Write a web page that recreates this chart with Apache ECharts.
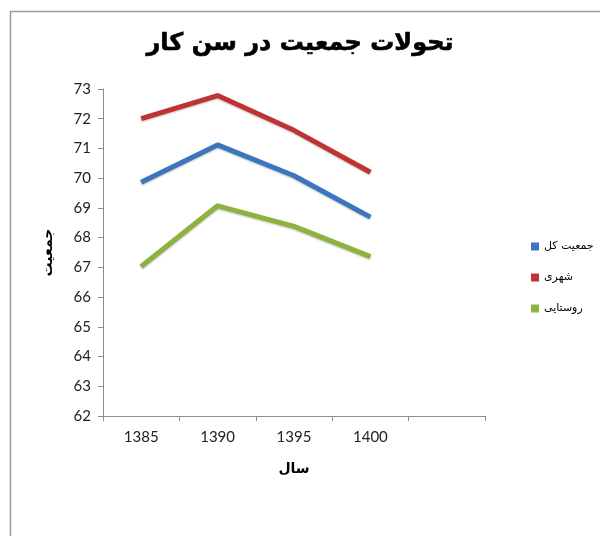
<!DOCTYPE html>
<html>
<head>
<meta charset="utf-8">
<script src="https://cdn.jsdelivr.net/npm/echarts@6/dist/echarts.min.js"></script>
<style>html,body{margin:0;padding:0;background:#fff}#c{width:600px;height:536px}</style>
</head>
<body>
<div id="c"></div>
<script>
var categories = ['1385', '1390', '1395', '1400', ''];
var totalPop = [69.86, 71.12, 70.08, 68.69];
var urbanPop = [72.0, 72.78, 71.61, 70.2];
var ruralPop = [67.03, 69.07, 68.38, 67.36];
var seriesNames = ['جمعیت کل', 'شهری', 'روستایی'];
var yMin = 62, yMax = 73, yStep = 1;

var chart = echarts.init(document.getElementById('c'));
var axisColor = '#8c8c8c';
var labelFont = 'Lato, "Open Sans", sans-serif';
function lineSeries(name, data, color) {
  return {
    name: name, type: 'line', data: data, showSymbol: false, symbol: 'rect', symbolSize: 8,
    itemStyle: {color: color},
    lineStyle: {color: color, width: 5, shadowColor: 'rgba(0,0,0,0.25)', shadowBlur: 2, shadowOffsetY: 1},
    emphasis: {disabled: true}
  };
}
chart.setOption({
  backgroundColor: '#fff',
  animation: false,
  graphic: [{type: 'rect', shape: {x: 10.5, y: 11.5, width: 620, height: 560}, style: {fill: 'none', stroke: '#9a9a9a', lineWidth: 1.5}, silent: true}],
  title: {
    text: 'تحولات جمعیت در سن کار', left: 'center', top: 27,
    textStyle: {fontFamily: '"DejaVu Sans", sans-serif', fontWeight: 'bold', fontSize: 24, color: '#000', textBorderColor: '#000', textBorderWidth: 0.6}
  },
  legend: {
    orient: 'vertical', left: 526, top: 236, itemGap: 20, itemWidth: 8, itemHeight: 8, icon: 'rect',
    textStyle: {fontFamily: '"DejaVu Sans", sans-serif', fontSize: 11, color: '#000'},
    data: seriesNames
  },
  grid: {left: 103, right: 115, top: 89, bottom: 120, containLabel: false},
  xAxis: {
    type: 'category', data: categories, boundaryGap: true,
    name: 'سال', nameLocation: 'middle', nameGap: 46,
    nameTextStyle: {fontFamily: '"DejaVu Sans", sans-serif', fontSize: 14, fontWeight: 'bold', color: '#000'},
    axisLine: {lineStyle: {color: axisColor, width: 1}},
    axisTick: {show: true, length: 5, lineStyle: {color: axisColor}},
    axisLabel: {fontFamily: labelFont, fontSize: 15, color: '#222', margin: 14}
  },
  yAxis: {
    type: 'value', min: yMin, max: yMax, interval: yStep,
    name: 'جمعیت', nameLocation: 'middle', nameGap: 48, nameRotate: 90,
    nameTextStyle: {fontFamily: '"DejaVu Sans", sans-serif', fontSize: 14, fontWeight: 'bold', color: '#000'},
    axisLine: {show: true, lineStyle: {color: axisColor, width: 1}},
    axisTick: {show: true, length: 5, lineStyle: {color: axisColor}},
    splitLine: {show: false},
    axisLabel: {fontFamily: labelFont, fontSize: 15, color: '#222', margin: 12}
  },
  series: [
    lineSeries(seriesNames[0], totalPop, '#3b75bd'),
    lineSeries(seriesNames[1], urbanPop, '#bf3331'),
    lineSeries(seriesNames[2], ruralPop, '#8db33e')
  ]
});
</script>
</body>
</html>
